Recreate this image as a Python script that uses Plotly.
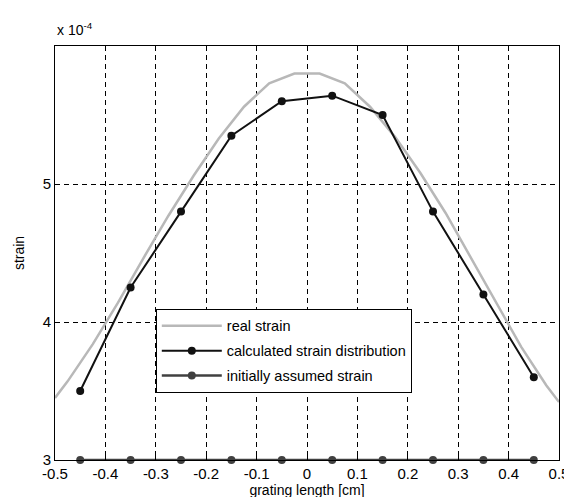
import plotly.graph_objects as go

# strain values in units of 1e-4
real_x = [-0.5, -0.475, -0.425, -0.375, -0.325, -0.275, -0.225, -0.175, -0.125, -0.075, -0.025,
          0.025, 0.075, 0.125, 0.175, 0.225, 0.275, 0.325, 0.375, 0.425, 0.475, 0.5]
real_strain = [3.45, 3.57, 3.84, 4.14, 4.46, 4.77, 5.06, 5.33, 5.56, 5.73, 5.80,
               5.80, 5.73, 5.56, 5.34, 5.08, 4.79, 4.47, 4.14, 3.82, 3.54, 3.42]

calc_x = [-0.45, -0.35, -0.25, -0.15, -0.05, 0.05, 0.15, 0.25, 0.35, 0.45]
calc_strain = [3.5, 4.25, 4.8, 5.35, 5.6, 5.64, 5.5, 4.8, 4.2, 3.6]
init_strain = [3.0, 3.0, 3.0, 3.0, 3.0, 3.0, 3.0, 3.0, 3.0, 3.0]

x_ticks = [-0.5, -0.4, -0.3, -0.2, -0.1, 0, 0.1, 0.2, 0.3, 0.4, 0.5]
x_tick_text = ["-0.5", "-0.4", "-0.3", "-0.2", "-0.1", "0", "0.1", "0.2", "0.3", "0.4", "0.5"]
y_ticks = [3, 4, 5]
y_tick_text = ["3", "4", "5"]

FONT = "Liberation Sans, Arial, sans-serif"

fig = go.Figure()
fig.add_trace(go.Scatter(x=real_x, y=real_strain, mode="lines", name="real strain",
                         legendgroup="a",
                         line=dict(color="#b8b8b8", width=2.5)))
fig.add_trace(go.Scatter(x=calc_x, y=calc_strain, mode="lines+markers",
                         name="calculated strain distribution", legendgroup="b",
                         line=dict(color="#111111", width=2),
                         marker=dict(color="#111111", size=8)))
fig.add_trace(go.Scatter(x=calc_x, y=init_strain, mode="lines+markers",
                         name="initially assumed strain", legendgroup="c",
                         line=dict(color="#404040", width=2.5),
                         marker=dict(color="#404040", size=8), cliponaxis=False))

axis_common = dict(showline=True, linecolor="black", linewidth=1, mirror=True,
                   showgrid=True, gridcolor="black", gridwidth=1, griddash="5px,4px",
                   zeroline=False, ticks="inside", ticklen=4, tickcolor="black",
                   tickfont=dict(family=FONT, size=15, color="black"))

fig.update_xaxes(range=[-0.5, 0.5], tickvals=x_ticks, ticktext=x_tick_text,
                 title=dict(text="grating length [cm]", font=dict(family=FONT, size=14, color="black"),
                            standoff=2),
                 **axis_common)
fig.update_yaxes(range=[3, 6], tickvals=y_ticks, ticktext=y_tick_text,
                 title=dict(text="strain", font=dict(family=FONT, size=14, color="black"),
                            standoff=14),
                 **axis_common)

fig.update_layout(
    width=572, height=497,
    margin=dict(l=47, r=11, t=38, b=45),
    plot_bgcolor="white", paper_bgcolor="white",
    font=dict(family=FONT, size=14, color="black"),
    showlegend=True,
    legend=dict(x=0.2, y=0.365, xanchor="left", yanchor="top",
                bgcolor="white", bordercolor="black", borderwidth=1,
                itemwidth=60, tracegroupgap=3,
                font=dict(family=FONT, size=14.5, color="black")),
    annotations=[dict(text="x 10<sup>-4</sup>", x=0, y=1, xref="paper", yref="paper",
                      xanchor="left", yanchor="bottom", showarrow=False, yshift=6,
                      font=dict(family=FONT, size=14, color="black"))],
)

fig.write_html("out.html")
